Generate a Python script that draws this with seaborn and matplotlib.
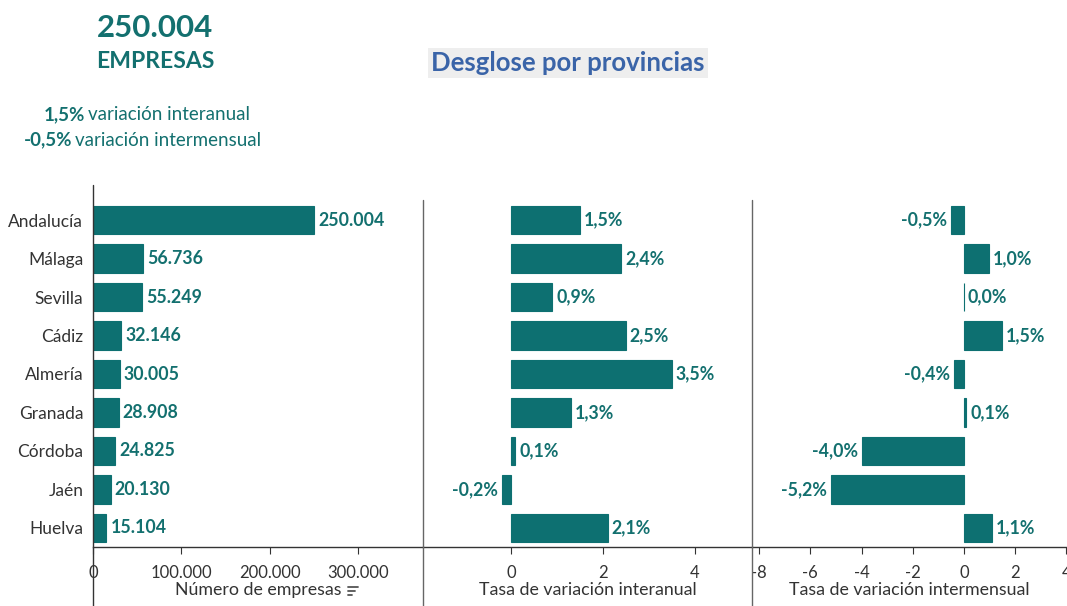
import seaborn as sns
import matplotlib.pyplot as plt
import matplotlib.lines as mlines
import pandas as pd
import numpy as np

# Data
provincias = ["Andalucía", "Málaga", "Sevilla", "Cádiz", "Almería",
              "Granada", "Córdoba", "Jaén", "Huelva"]
empresas = [250004, 56736, 55249, 32146, 30005, 28908, 24825, 20130, 15104]
interanual = [1.5, 2.4, 0.9, 2.5, 3.5, 1.3, 0.1, -0.2, 2.1]
intermensual = [-0.5, 1.0, 0.0, 1.5, -0.4, 0.1, -4.0, -5.2, 1.1]

df = pd.DataFrame({"provincia": provincias, "empresas": empresas,
                   "interanual": interanual, "intermensual": intermensual})

sns.set_theme(style="white")
plt.rcParams['font.family'] = ['Lato', 'DejaVu Sans']

teal = "#0d7071"
txt_teal = "#13706f"
dark = "#333333"

W, H = 1067, 606
fig = plt.figure(figsize=(W / 100, H / 100), dpi=100)

def fx(px):
    return px / W

def fy(py):
    return 1 - py / H

top, bottom = 201, 547
panels = [
    (93, 423, (0, 373000), "empresas", "Número de empresas", [0, 100000, 200000, 300000]),
    (423, 752, (-1.91, 5.24), "interanual", "Tasa de variación interanual", [0, 2, 4]),
    (752, 1067, (-8.28, 4.03), "intermensual", "Tasa de variación intermensual", [-8, -6, -4, -2, 0, 2, 4]),
]

def fmt_num(v):
    return f"{v:,.0f}".replace(",", ".")

def fmt_pct(v):
    return f"{v:.1f}%".replace(".", ",")

for i, (x0, x1, xlim, col, xlabel, ticks) in enumerate(panels):
    ax = fig.add_axes([fx(x0), fy(bottom), fx(x1 - x0), fy(top) - fy(bottom)])
    sns.barplot(data=df, x=col, y="provincia", orient="h", color=teal,
                saturation=1, width=0.74, edgecolor=teal, linewidth=0.8, ax=ax)
    ax.set_xlim(*xlim)
    ax.set_ylim(8.5, -0.5)
    for s in ["top", "right", "left"]:
        ax.spines[s].set_visible(False)
    ax.spines["bottom"].set_color(dark)
    ax.spines["bottom"].set_linewidth(1.0)
    ax.set_xticks(ticks)
    if col == "empresas":
        ax.set_xticklabels([fmt_num(t) for t in ticks])
        ax.tick_params(axis="y", length=0, labelsize=12.5, labelcolor=dark, pad=7)
    else:
        ax.set_xticklabels([str(t) for t in ticks])
        ax.set_yticks([])
    ax.tick_params(axis="x", bottom=True, direction="out", length=5, width=0.8,
                   color=dark, labelsize=12, labelcolor=dark, pad=8)
    ax.set_xlabel(xlabel, fontsize=12.8, color=dark, labelpad=1)
    ax.set_ylabel("")
    ax.patch.set_alpha(0)

    vals = df[col].values
    span = xlim[1] - xlim[0]
    off = span * 0.012
    for j, v in enumerate(vals):
        label = fmt_num(v) if col == "empresas" else fmt_pct(v)
        if v < 0:
            ax.text(v - off, j, label, ha="right", va="center", fontsize=12.8,
                    fontweight="bold", color=txt_teal)
        else:
            ax.text(v + off, j, label, ha="left", va="center", fontsize=12.8,
                    fontweight="bold", color=txt_teal)

# vertical divider lines extending below the axes
fig.add_artist(mlines.Line2D([fx(93), fx(93)], [fy(185), 0], color=dark, lw=1.0))
fig.add_artist(mlines.Line2D([fx(423), fx(423)], [fy(200), 0], color="#666666", lw=1.0))
fig.add_artist(mlines.Line2D([fx(752), fx(752)], [fy(200), 0], color="#666666", lw=1.0))

# small sort icon next to the first axis label
for k, ln in enumerate([10, 7, 4]):
    yy = fy(587 + 4 * k)
    fig.add_artist(mlines.Line2D([fx(348), fx(348 + ln)], [yy, yy], color="#555555", lw=1.3))

# Header texts
fig.text(fx(155), fy(28), "250.004", ha="center", va="center", fontsize=22.5,
         fontweight="bold", color=txt_teal)
fig.text(fx(155), fy(62), "EMPRESAS", ha="center", va="center", fontsize=16.5,
         fontweight="bold", color=txt_teal)
fig.text(fx(85), fy(115), "1,5%", ha="right", va="center", fontsize=13.5,
         fontweight="bold", color=txt_teal)
fig.text(fx(88), fy(115), "variación interanual", ha="left", va="center",
         fontsize=13.5, color=txt_teal)
fig.text(fx(72), fy(140), "-0,5%", ha="right", va="center", fontsize=13.5,
         fontweight="bold", color=txt_teal)
fig.text(fx(75), fy(140), "variación intermensual", ha="left", va="center",
         fontsize=13.5, color=txt_teal)

fig.text(fx(568), fy(63), "Desglose por provincias", ha="center", va="center",
         fontsize=18.5, fontweight="bold", color="#3a64a8",
         bbox=dict(boxstyle="square,pad=0.12", facecolor="#eeeeee", edgecolor="none"))

fig.savefig("out.png", dpi=100)
